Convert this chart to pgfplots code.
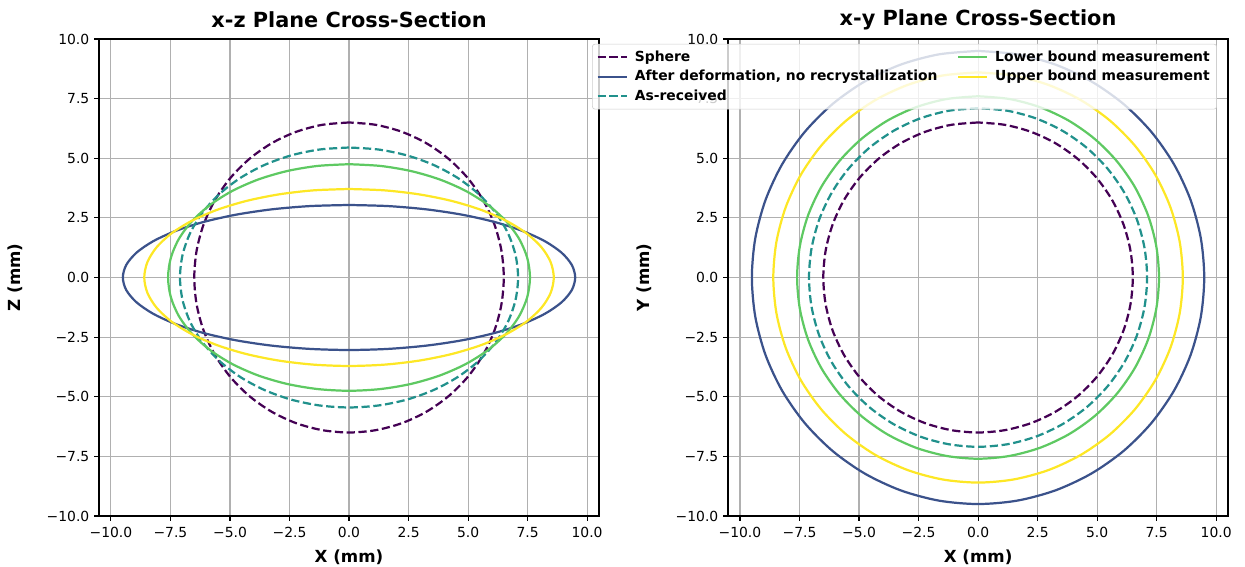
\documentclass[border=0pt]{standalone}
\usepackage{fontspec}
\setmainfont{DejaVu Sans}
\usepackage{pgfplots}
\pgfplotsset{compat=1.18}
\definecolor{csphere}{HTML}{440154}
\definecolor{cafter}{HTML}{3B528B}
\definecolor{casrec}{HTML}{21918C}
\definecolor{clower}{HTML}{5EC962}
\definecolor{cupper}{HTML}{FDE725}
\definecolor{cgrid}{HTML}{B0B0B0}
\pgfplotsset{
  mystyle/.style={
    scale only axis, width=360pt, height=343.4pt,
    xmin=-10.5, xmax=10.5, ymin=-10, ymax=10,
    xtick={-10,-7.5,-5,-2.5,0,2.5,5,7.5,10},
    ytick={-10,-7.5,-5,-2.5,0,2.5,5,7.5,10},
    xticklabels={−10.0,−7.5,−5.0,−2.5,0.0,2.5,5.0,7.5,10.0},
    yticklabels={−10.0,−7.5,−5.0,−2.5,0.0,2.5,5.0,7.5,10.0},
    xtick pos=left, ytick pos=left, tick align=outside,
    major tick length=3.5pt,
    tick style={black, line width=0.8pt},
    axis line style={line width=1.5pt},
    grid=major,
    major grid style={cgrid, line width=0.8pt},
    tick label style={font=\fontsize{10}{12}\selectfont},
    xticklabel style={yshift=-1pt},
    every axis x label/.style={at={(axis description cs:0.5,0)}, yshift=-29.5pt, anchor=center, font=\bfseries\fontsize{12}{14}\selectfont},
    every axis y label/.style={at={(axis description cs:0,0.5)}, xshift=-60.5pt, rotate=90, anchor=center, font=\bfseries\fontsize{12}{14}\selectfont},
    every axis title/.style={at={(axis description cs:0.5,1)}, yshift=13.7pt, anchor=center, font=\bfseries\fontsize{15}{17}\selectfont},
    clip=true,
  },
  lsol/.style={line width=1.6pt, smooth},
  ldash/.style={line width=1.6pt, smooth, dash pattern=on 5.9pt off 2.6pt},
}
\begin{document}
\begin{tikzpicture}
\useasboundingbox (0,0) rectangle (896.4pt,408.2pt);
% ---------------- left: x-z ----------------
\begin{axis}[mystyle, at={(71.3pt,36.7pt)}, anchor=south west,
  title={x-z Plane Cross-Section}, xlabel={X (mm)}, ylabel={Z (mm)}]
\addplot[ldash, csphere] coordinates {(0,6.5) (-1.128,6.401) (-2.223,6.108) (-3.25,5.629) (-4.178,4.979) (-4.979,4.178) (-5.629,3.25) (-6.108,2.223) (-6.401,1.128) (-6.5,0) (-6.401,-1.128) (-6.108,-2.223) (-5.629,-3.25) (-4.979,-4.178) (-4.178,-4.979) (-3.25,-5.629) (-2.223,-6.108) (-1.128,-6.401) (0,-6.5) (1.128,-6.401) (2.223,-6.108) (3.25,-5.629) (4.178,-4.979) (4.979,-4.178) (5.629,-3.25) (6.108,-2.223) (6.401,-1.128) (6.5,0) (6.401,1.128) (6.108,2.223) (5.629,3.25) (4.979,4.178) (4.178,4.979) (3.25,5.629) (2.223,6.108) (1.128,6.401) (0,6.5)};
\addplot[lsol, cafter] coordinates {(0,3.04) (-1.649,2.994) (-3.249,2.857) (-4.75,2.633) (-6.107,2.329) (-7.277,1.954) (-8.227,1.52) (-8.927,1.04) (-9.356,0.528) (-9.5,0) (-9.356,-0.528) (-8.927,-1.04) (-8.227,-1.52) (-7.277,-1.954) (-6.107,-2.329) (-4.75,-2.633) (-3.249,-2.857) (-1.649,-2.994) (0,-3.04) (1.649,-2.994) (3.249,-2.857) (4.75,-2.633) (6.107,-2.329) (7.277,-1.954) (8.227,-1.52) (8.927,-1.04) (9.356,-0.528) (9.5,0) (9.356,0.528) (8.927,1.04) (8.227,1.52) (7.277,1.954) (6.107,2.329) (4.75,2.633) (3.249,2.857) (1.649,2.994) (0,3.04)};
\addplot[ldash, casrec] coordinates {(0,5.45) (-1.233,5.367) (-2.428,5.121) (-3.55,4.72) (-4.564,4.175) (-5.439,3.503) (-6.149,2.725) (-6.672,1.864) (-6.992,0.946) (-7.1,0) (-6.992,-0.946) (-6.672,-1.864) (-6.149,-2.725) (-5.439,-3.503) (-4.564,-4.175) (-3.55,-4.72) (-2.428,-5.121) (-1.233,-5.367) (0,-5.45) (1.233,-5.367) (2.428,-5.121) (3.55,-4.72) (4.564,-4.175) (5.439,-3.503) (6.149,-2.725) (6.672,-1.864) (6.992,-0.946) (7.1,0) (6.992,0.946) (6.672,1.864) (6.149,2.725) (5.439,3.503) (4.564,4.175) (3.55,4.72) (2.428,5.121) (1.233,5.367) (0,5.45)};
\addplot[lsol, clower] coordinates {(0,4.75) (-1.319,4.678) (-2.599,4.464) (-3.8,4.114) (-4.885,3.639) (-5.822,3.053) (-6.582,2.375) (-7.142,1.625) (-7.484,0.825) (-7.6,0) (-7.484,-0.825) (-7.142,-1.625) (-6.582,-2.375) (-5.822,-3.053) (-4.885,-3.639) (-3.8,-4.114) (-2.599,-4.464) (-1.319,-4.678) (0,-4.75) (1.319,-4.678) (2.599,-4.464) (3.8,-4.114) (4.885,-3.639) (5.822,-3.053) (6.582,-2.375) (7.142,-1.625) (7.484,-0.825) (7.6,0) (7.484,0.825) (7.142,1.625) (6.582,2.375) (5.822,3.053) (4.885,3.639) (3.8,4.114) (2.599,4.464) (1.319,4.678) (0,4.75)};
\addplot[lsol, cupper] coordinates {(0,3.71) (-1.493,3.654) (-2.941,3.486) (-4.3,3.213) (-5.528,2.842) (-6.588,2.385) (-7.448,1.855) (-8.081,1.269) (-8.469,0.644) (-8.6,0) (-8.469,-0.644) (-8.081,-1.269) (-7.448,-1.855) (-6.588,-2.385) (-5.528,-2.842) (-4.3,-3.213) (-2.941,-3.486) (-1.493,-3.654) (0,-3.71) (1.493,-3.654) (2.941,-3.486) (4.3,-3.213) (5.528,-2.842) (6.588,-2.385) (7.448,-1.855) (8.081,-1.269) (8.469,-0.644) (8.6,0) (8.469,0.644) (8.081,1.269) (7.448,1.855) (6.588,2.385) (5.528,2.842) (4.3,3.213) (2.941,3.486) (1.493,3.654) (0,3.71)};
\end{axis}
% ---------------- right: x-y ----------------
\begin{axis}[mystyle, at={(524.2pt,36.7pt)}, anchor=south west,
  title={x-y Plane Cross-Section}, xlabel={X (mm)}, ylabel={Y (mm)},
  legend columns=2,
  legend cell align=left,
  legend image code/.code={\draw[#1] (0pt,0pt) -- (21pt,0pt);},
  legend style={at={(-0.272,0.99)}, anchor=north west,
    draw=black!20, rounded corners=2pt, fill=white, fill opacity=0.8, text opacity=1,
    font=\bfseries\fontsize{10}{12}\selectfont,
    inner xsep=3pt, inner ysep=3pt,
    /tikz/every odd column/.append style={column sep=3pt},
    /tikz/every even column/.append style={column sep=12pt},
    row sep=0.8pt}]
\addplot[ldash, csphere, forget plot] coordinates {(0,6.5) (-1.128,6.401) (-2.223,6.108) (-3.25,5.629) (-4.178,4.979) (-4.979,4.178) (-5.629,3.25) (-6.108,2.223) (-6.401,1.128) (-6.5,0) (-6.401,-1.128) (-6.108,-2.223) (-5.629,-3.25) (-4.979,-4.178) (-4.178,-4.979) (-3.25,-5.629) (-2.223,-6.108) (-1.128,-6.401) (0,-6.5) (1.128,-6.401) (2.223,-6.108) (3.25,-5.629) (4.178,-4.979) (4.979,-4.178) (5.629,-3.25) (6.108,-2.223) (6.401,-1.128) (6.5,0) (6.401,1.128) (6.108,2.223) (5.629,3.25) (4.979,4.178) (4.178,4.979) (3.25,5.629) (2.223,6.108) (1.128,6.401) (0,6.5)};
\addplot[lsol, cafter, forget plot] coordinates {(0,9.5) (-1.649,9.356) (-3.249,8.927) (-4.75,8.227) (-6.107,7.277) (-7.277,6.107) (-8.227,4.75) (-8.927,3.249) (-9.356,1.649) (-9.5,0) (-9.356,-1.649) (-8.927,-3.249) (-8.227,-4.75) (-7.277,-6.107) (-6.107,-7.277) (-4.75,-8.227) (-3.249,-8.927) (-1.649,-9.356) (0,-9.5) (1.649,-9.356) (3.249,-8.927) (4.75,-8.227) (6.107,-7.277) (7.277,-6.107) (8.227,-4.75) (8.927,-3.249) (9.356,-1.649) (9.5,0) (9.356,1.649) (8.927,3.249) (8.227,4.75) (7.277,6.107) (6.107,7.277) (4.75,8.227) (3.249,8.927) (1.649,9.356) (0,9.5)};
\addplot[ldash, casrec, forget plot] coordinates {(0,7.1) (-1.233,6.992) (-2.428,6.672) (-3.55,6.149) (-4.564,5.439) (-5.439,4.564) (-6.149,3.55) (-6.672,2.428) (-6.992,1.233) (-7.1,0) (-6.992,-1.233) (-6.672,-2.428) (-6.149,-3.55) (-5.439,-4.564) (-4.564,-5.439) (-3.55,-6.149) (-2.428,-6.672) (-1.233,-6.992) (0,-7.1) (1.233,-6.992) (2.428,-6.672) (3.55,-6.149) (4.564,-5.439) (5.439,-4.564) (6.149,-3.55) (6.672,-2.428) (6.992,-1.233) (7.1,0) (6.992,1.233) (6.672,2.428) (6.149,3.55) (5.439,4.564) (4.564,5.439) (3.55,6.149) (2.428,6.672) (1.233,6.992) (0,7.1)};
\addplot[lsol, clower, forget plot] coordinates {(0,7.6) (-1.319,7.484) (-2.599,7.142) (-3.8,6.582) (-4.885,5.822) (-5.822,4.885) (-6.582,3.8) (-7.142,2.599) (-7.484,1.319) (-7.6,0) (-7.484,-1.319) (-7.142,-2.599) (-6.582,-3.8) (-5.822,-4.885) (-4.885,-5.822) (-3.8,-6.582) (-2.599,-7.142) (-1.319,-7.484) (0,-7.6) (1.319,-7.484) (2.599,-7.142) (3.8,-6.582) (4.885,-5.822) (5.822,-4.885) (6.582,-3.8) (7.142,-2.599) (7.484,-1.319) (7.6,0) (7.484,1.319) (7.142,2.599) (6.582,3.8) (5.822,4.885) (4.885,5.822) (3.8,6.582) (2.599,7.142) (1.319,7.484) (0,7.6)};
\addplot[lsol, cupper, forget plot] coordinates {(0,8.6) (-1.493,8.469) (-2.941,8.081) (-4.3,7.448) (-5.528,6.588) (-6.588,5.528) (-7.448,4.3) (-8.081,2.941) (-8.469,1.493) (-8.6,0) (-8.469,-1.493) (-8.081,-2.941) (-7.448,-4.3) (-6.588,-5.528) (-5.528,-6.588) (-4.3,-7.448) (-2.941,-8.081) (-1.493,-8.469) (0,-8.6) (1.493,-8.469) (2.941,-8.081) (4.3,-7.448) (5.528,-6.588) (6.588,-5.528) (7.448,-4.3) (8.081,-2.941) (8.469,-1.493) (8.6,0) (8.469,1.493) (8.081,2.941) (7.448,4.3) (6.588,5.528) (5.528,6.588) (4.3,7.448) (2.941,8.081) (1.493,8.469) (0,8.6)};
\addlegendimage{ldash, csphere}\addlegendentry{Sphere}
\addlegendimage{lsol, clower}\addlegendentry{Lower bound measurement}
\addlegendimage{lsol, cafter}\addlegendentry{After deformation, no recrystallization}
\addlegendimage{lsol, cupper}\addlegendentry{Upper bound measurement}
\addlegendimage{ldash, casrec}\addlegendentry{As-received}
\end{axis}
\end{tikzpicture}
\end{document}
